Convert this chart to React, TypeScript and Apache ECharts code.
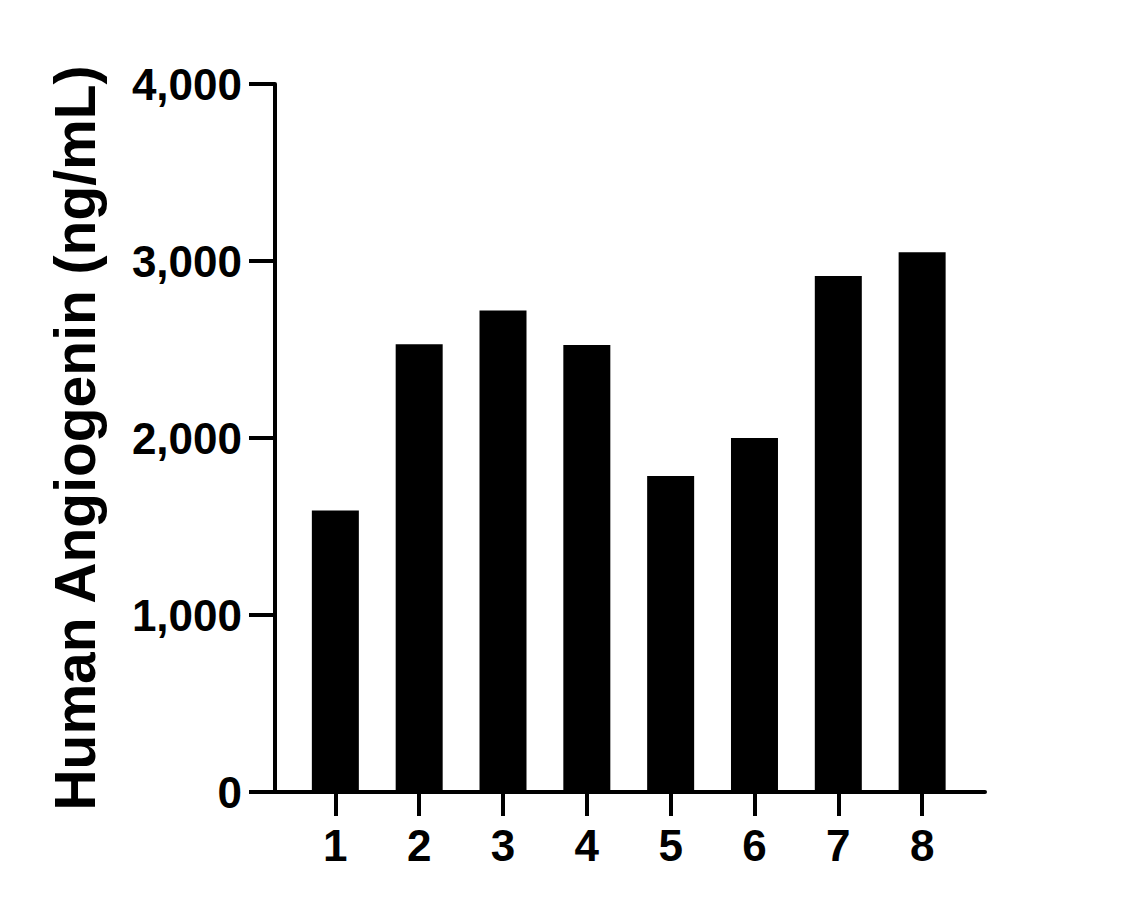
import React, { useEffect, useRef } from "react";
import * as echarts from "echarts";

// sample numbers on the x axis
const samples = [1, 2, 3, 4, 5, 6, 7, 8];
// angiogenin concentration per sample (ng/mL)
const angiogenin = [1590, 2530, 2720, 2525, 1785, 2000, 2915, 3050];
const yTicks = [0, 1000, 2000, 3000, 4000];

const FONT = '"Liberation Sans", Arial, Helvetica, sans-serif';

export default function App() {
  const ref = useRef<HTMLDivElement>(null);

  useEffect(() => {
    if (!ref.current) return;
    const chart = echarts.init(ref.current, null, { renderer: "svg" });
    chart.setOption({
      animation: false,
      backgroundColor: "#ffffff",
      grid: { left: 275, right: 136, top: 84, bottom: 116 },
      xAxis: {
        type: "value",
        min: 0.28,
        max: 8.75,
        splitLine: { show: false },
        axisLine: { lineStyle: { color: "#000", width: 4 } },
        axisTick: {
          customValues: samples,
          length: 24,
          lineStyle: { color: "#000", width: 4 },
        },
        axisLabel: {
          customValues: samples,
          margin: 31,
          color: "#000",
          fontFamily: FONT,
          fontWeight: "bold",
          fontSize: 44,
        },
      },
      yAxis: {
        type: "value",
        min: yTicks[0],
        max: yTicks[yTicks.length - 1],
        interval: 1000,
        name: "Human Angiogenin (ng/mL)",
        nameLocation: "middle",
        nameRotate: 90,
        nameGap: 172,
        nameTextStyle: {
          color: "#000",
          fontFamily: FONT,
          fontWeight: "bold",
          fontSize: 57,
        },
        splitLine: { show: false },
        axisLine: { show: true, lineStyle: { color: "#000", width: 4 } },
        axisTick: { show: true, length: 26, lineStyle: { color: "#000", width: 4 } },
        axisLabel: {
          margin: 33,
          color: "#000",
          fontFamily: FONT,
          fontWeight: "bold",
          fontSize: 44,
          formatter: (v: number) => v.toLocaleString("en-US"),
        },
      },
      series: [
        {
          type: "bar",
          barWidth: 47,
          data: samples.map((s, i) => [s, angiogenin[i]]),
          itemStyle: { color: "#000" },
        },
      ],
    });
    return () => chart.dispose();
  }, []);

  return (
    <div
      ref={ref}
      style={{ position: "fixed", left: 0, top: 0, width: 1121, height: 908 }}
    />
  );
}
